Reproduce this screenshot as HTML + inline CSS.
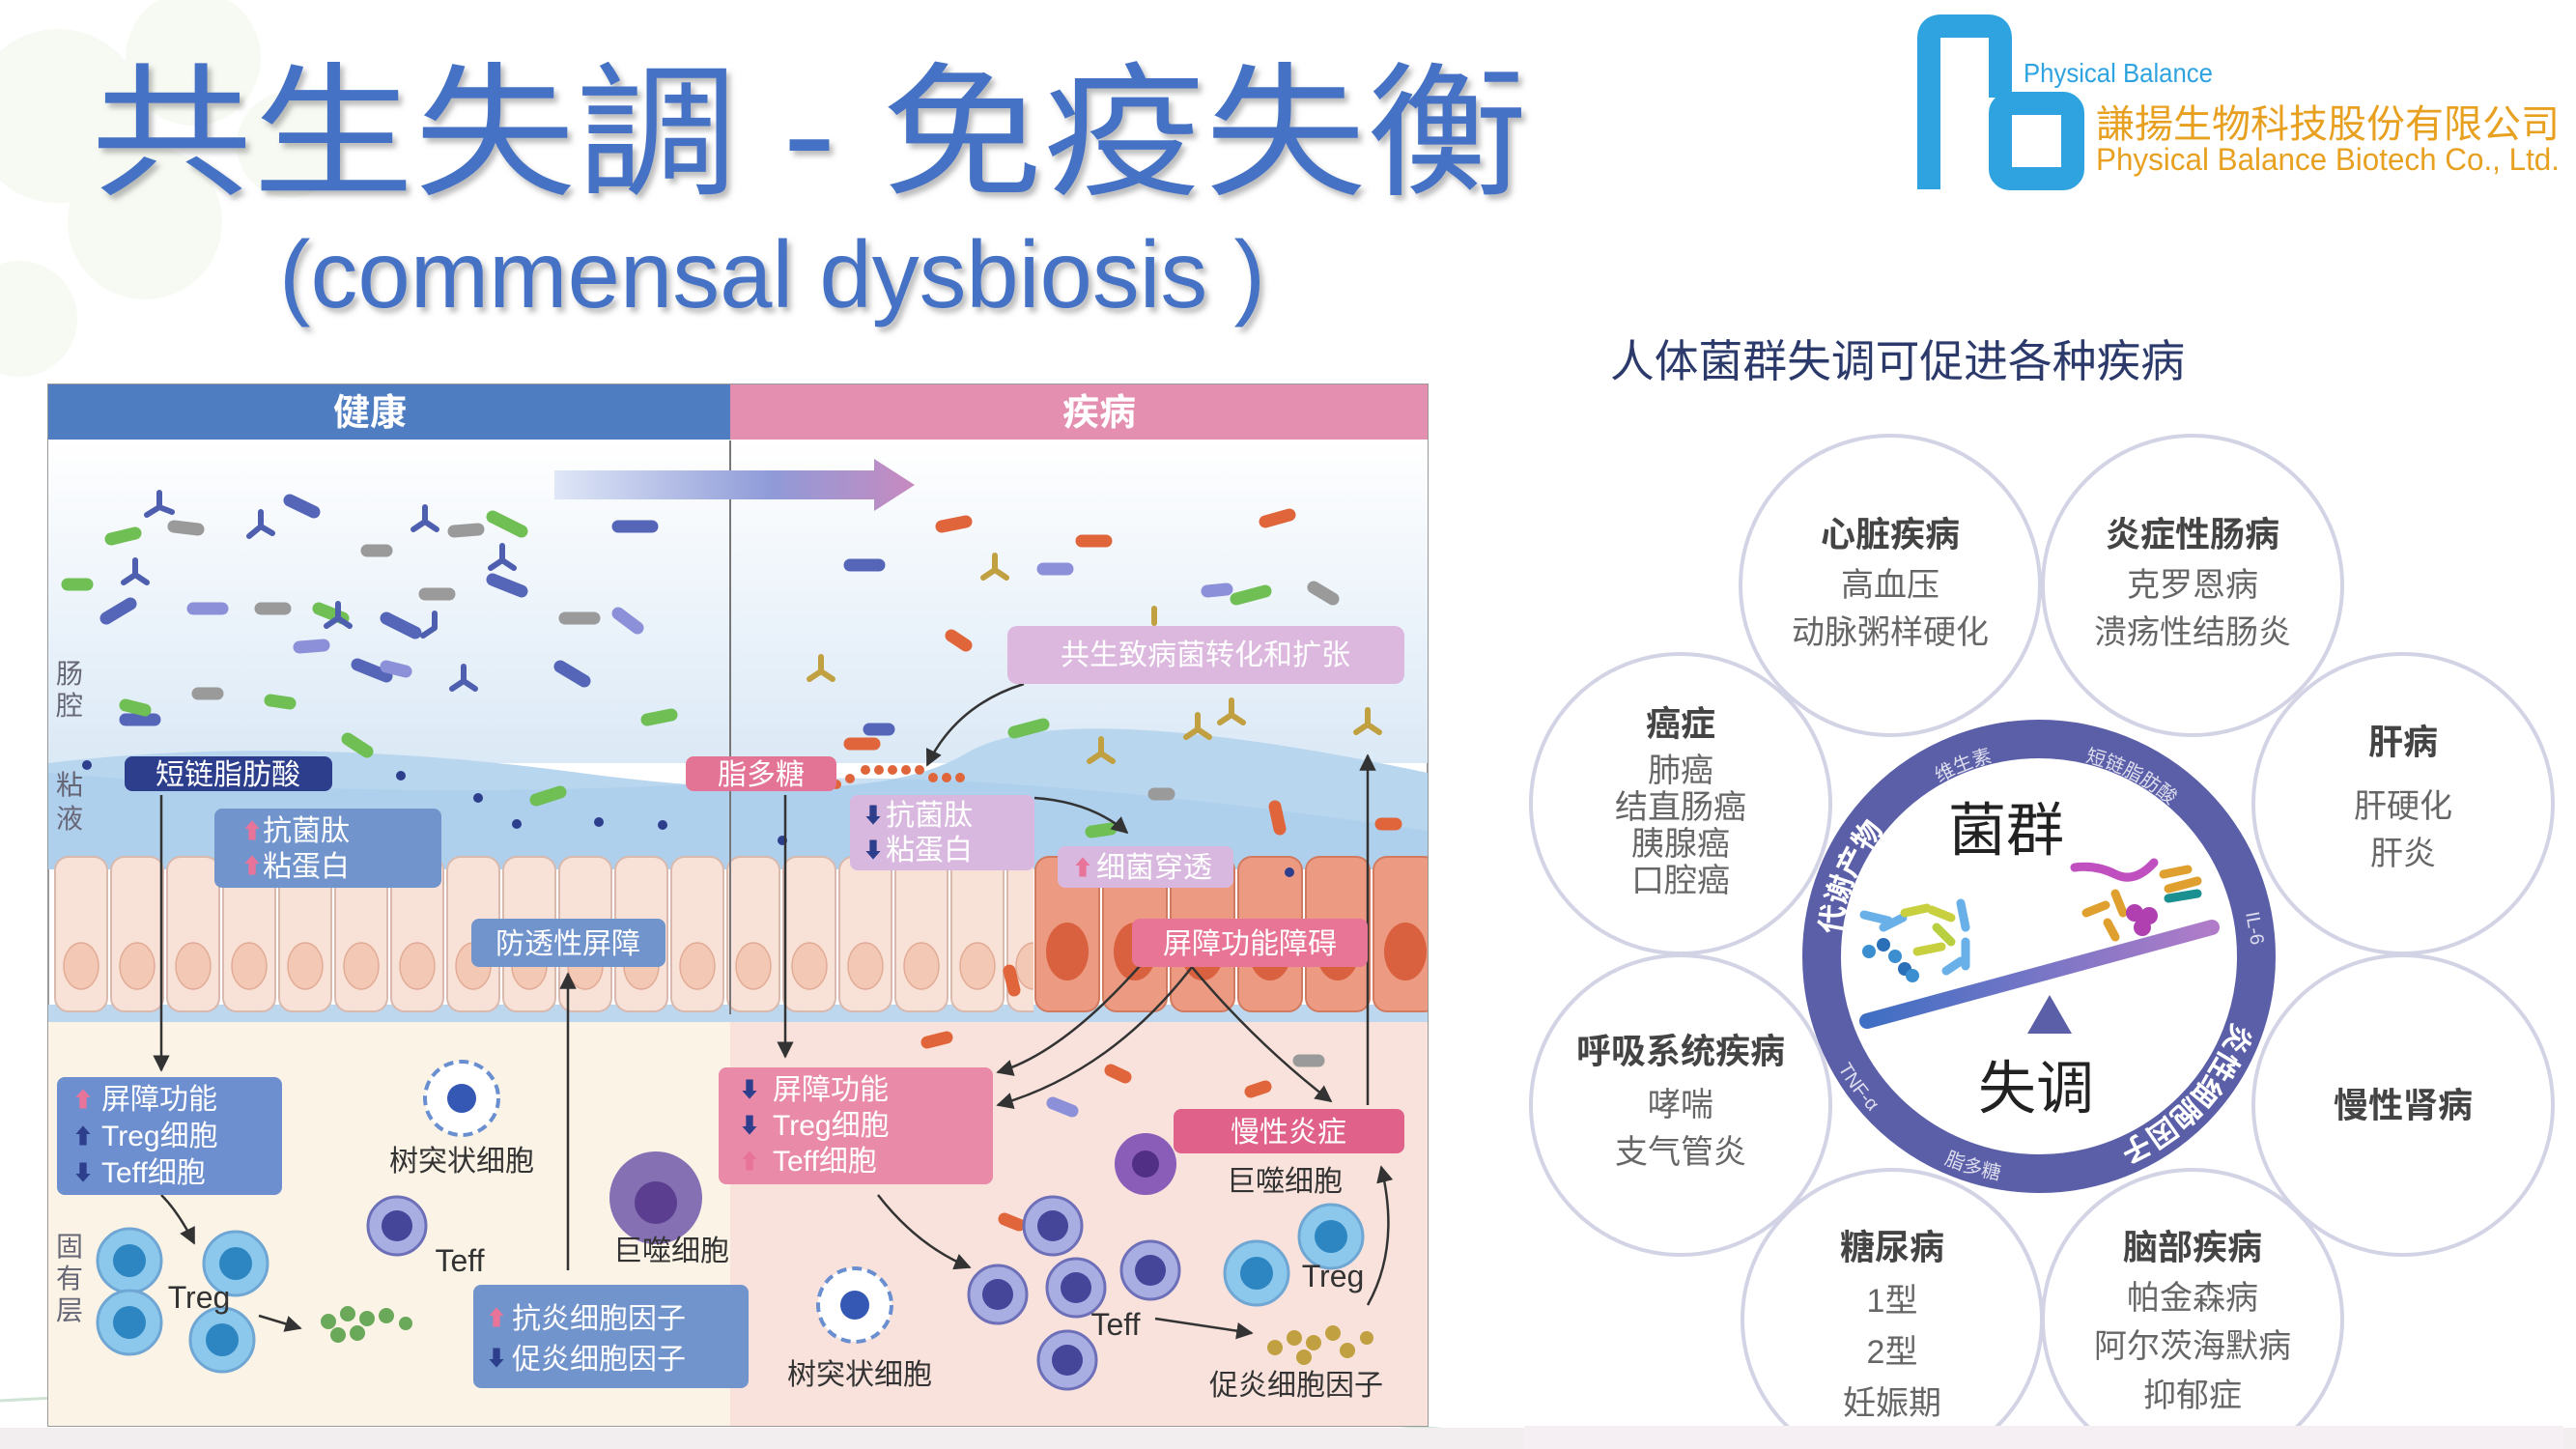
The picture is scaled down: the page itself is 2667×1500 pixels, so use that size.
<!DOCTYPE html>
<html><head><meta charset="utf-8"><style>
html,body{margin:0;padding:0;background:#fff}
svg{display:block}
text{font-family:"Liberation Sans","Noto Sans CJK SC",sans-serif}
</style></head><body>
<svg width="2667" height="1500" viewBox="0 0 2667 1500" xmlns="http://www.w3.org/2000/svg">
<defs>
<linearGradient id="lum" x1="0" y1="0" x2="0" y2="1"><stop offset="0" stop-color="#ffffff"/><stop offset="1" stop-color="#dbe9f6"/></linearGradient>
<linearGradient id="arr" x1="0" x2="1"><stop offset="0" stop-color="#dfe7f7"/><stop offset="0.6" stop-color="#8f9bd8"/><stop offset="1" stop-color="#c78ac0"/></linearGradient>
<linearGradient id="bar" x1="0" x2="1"><stop offset="0" stop-color="#3f6fc4"/><stop offset="1" stop-color="#b07cc8"/></linearGradient>
<pattern id="cells" x="55" y="885" width="58" height="165" patternUnits="userSpaceOnUse">
<rect x="2" y="2" width="54" height="160" rx="14" fill="#f8e2d8" stroke="#d9b8ae" stroke-width="2"/>
<ellipse cx="29" cy="115" rx="18" ry="24" fill="#f3c9b6" stroke="#e2ab96" stroke-width="1.5"/>
</pattern>
<pattern id="rcells" x="1070" y="885" width="70" height="165" patternUnits="userSpaceOnUse">
<rect x="2" y="2" width="66" height="160" rx="14" fill="#ec9b82" stroke="#d27a60" stroke-width="2"/>
<ellipse cx="35" cy="100" rx="22" ry="30" fill="#d9613f"/>
</pattern>
<marker id="ah" viewBox="0 0 10 10" refX="9" refY="5" markerWidth="7" markerHeight="7" orient="auto"><path d="M0,0 L10,5 L0,10 z" fill="#333"/></marker>
<filter id="sh"><feDropShadow dx="4" dy="5" stdDeviation="3" flood-color="#777" flood-opacity="0.5"/></filter>
<path id="arcTop" d="M1906,1020 A206,206 0 0 1 2316,960"/>
<path id="arcBot" d="M2314,1052 A212,212 0 0 1 2093,1201"/>
<path id="arcBL" d="M1880,1050 A235,235 0 0 0 2100,1224"/>
</defs>

<!-- background decor -->
<g opacity="0.12" fill="#b9d79c">
<circle cx="60" cy="120" r="90"/><circle cx="200" cy="60" r="70"/><circle cx="150" cy="230" r="80"/><circle cx="20" cy="330" r="60"/><circle cx="300" cy="150" r="55"/>
</g>
<path d="M0,1450 Q700,1410 1500,1480" stroke="#cfe3d4" stroke-width="3" fill="none"/>
<rect x="0" y="1478" width="2667" height="22" fill="#f2eef0"/>

<!-- title -->
<text x="94" y="190" font-size="150" fill="#4472c4" filter="url(#sh)" textLength="1488" lengthAdjust="spacingAndGlyphs">共生失調 - 免疫失衡</text>
<text x="289" y="318" font-size="98" fill="#4472c4" filter="url(#sh)" textLength="1021" lengthAdjust="spacingAndGlyphs">(commensal dysbiosis )</text>

<!-- logo -->
<g fill="none" stroke="#2ea3e0" stroke-width="24">
<path d="M1997,196 V40 Q1997,27 2010,27 H2058 Q2071,27 2071,40 V101"/>
<rect x="2071" y="107" width="75" height="78" rx="10"/>
</g>
<text x="2095" y="85" font-size="28" fill="#2ea3e0" textLength="196" lengthAdjust="spacingAndGlyphs">Physical Balance</text>
<text x="2170" y="142" font-size="40" fill="#e8a020" textLength="480" lengthAdjust="spacingAndGlyphs">謙揚生物科技股份有限公司</text>
<text x="2170" y="176" font-size="32" fill="#e8a020" textLength="480" lengthAdjust="spacingAndGlyphs">Physical Balance Biotech Co., Ltd.</text>

<!-- LEFT DIAGRAM -->
<rect x="50" y="398" width="1428" height="1078" fill="#fff" stroke="#999" stroke-width="2"/>
<rect x="50" y="455" width="1428" height="335" fill="url(#lum)"/>
<path d="M50,790 Q300,760 600,800 T1000,780 T1478,800 V900 H50 Z" fill="#b9d6ef"/>
<path d="M50,800 Q400,830 756,810 Q1000,790 1478,860 V900 H50Z" fill="#a9cbea" opacity="0.6"/>
<rect x="50" y="1050" width="706" height="426" fill="#fbf3e6"/>
<rect x="756" y="1050" width="722" height="426" fill="#f9e2dc"/>
<rect x="50" y="1040" width="1428" height="18" fill="#bdd8ee"/>
<rect x="55" y="885" width="1015" height="165" fill="url(#cells)"/>
<rect x="1070" y="885" width="408" height="165" fill="url(#rcells)"/>
<line x1="756" y1="456" x2="756" y2="1050" stroke="#777" stroke-width="2"/>
<rect x="50" y="398" width="706" height="57" fill="#4f7dc2"/>
<rect x="756" y="398" width="722" height="57" fill="#e58fb0"/>
<text x="383" y="440" font-size="38" font-weight="bold" fill="#fff" text-anchor="middle">健康</text>
<text x="1138" y="440" font-size="38" font-weight="bold" fill="#fff" text-anchor="middle">疾病</text>
<path d="M574,487 H905 V475 L947,502 L905,529 V517 H574 Z" fill="url(#arr)"/>

<!-- bacteria -->
<g stroke-linecap="round" stroke-width="13">
<g stroke="#5566b8"><line x1="300" y1="518" x2="325" y2="530"/><line x1="110" y1="640" x2="135" y2="625"/><line x1="400" y1="640" x2="430" y2="655"/><line x1="510" y1="600" x2="540" y2="612"/><line x1="640" y1="545" x2="675" y2="545"/><line x1="580" y1="690" x2="605" y2="705"/><line x1="130" y1="745" x2="160" y2="745"/><line x1="370" y1="688" x2="400" y2="700"/><line x1="880" y1="585" x2="910" y2="585"/><line x1="900" y1="755" x2="920" y2="755"/></g>
<g stroke="#9a9a9a"><line x1="180" y1="545" x2="205" y2="548"/><line x1="380" y1="570" x2="400" y2="570"/><line x1="470" y1="550" x2="495" y2="548"/><line x1="270" y1="630" x2="295" y2="630"/><line x1="585" y1="640" x2="615" y2="640"/><line x1="440" y1="615" x2="465" y2="615"/><line x1="205" y1="718" x2="225" y2="718"/><line x1="1195" y1="822" x2="1210" y2="822"/><line x1="1345" y1="1098" x2="1365" y2="1098"/><line x1="1360" y1="608" x2="1380" y2="620"/></g>
<g stroke="#6fbf55"><line x1="115" y1="558" x2="140" y2="552"/><line x1="70" y1="605" x2="90" y2="605"/><line x1="330" y1="630" x2="355" y2="640"/><line x1="510" y1="535" x2="540" y2="550"/><line x1="130" y1="730" x2="150" y2="735"/><line x1="280" y1="725" x2="300" y2="728"/><line x1="670" y1="745" x2="695" y2="740"/><line x1="360" y1="765" x2="380" y2="778"/><line x1="555" y1="828" x2="580" y2="820"/><line x1="1280" y1="620" x2="1310" y2="612"/><line x1="1050" y1="758" x2="1080" y2="750"/><line x1="1130" y1="861" x2="1150" y2="858"/></g>
<g stroke="#8c90d8"><line x1="200" y1="630" x2="230" y2="630"/><line x1="310" y1="670" x2="335" y2="668"/><line x1="400" y1="690" x2="420" y2="695"/><line x1="640" y1="635" x2="660" y2="650"/><line x1="1080" y1="589" x2="1105" y2="589"/><line x1="1250" y1="612" x2="1270" y2="610"/><line x1="1090" y1="1142" x2="1110" y2="1150"/></g>
<g stroke="#e0653a"><line x1="975" y1="545" x2="1000" y2="540"/><line x1="1120" y1="560" x2="1145" y2="560"/><line x1="1310" y1="540" x2="1335" y2="533"/><line x1="985" y1="658" x2="1000" y2="668"/><line x1="880" y1="770" x2="905" y2="770"/><line x1="1320" y1="835" x2="1325" y2="858"/><line x1="1430" y1="853" x2="1445" y2="853"/><line x1="1045" y1="1005" x2="1050" y2="1025"/><line x1="960" y1="1079" x2="980" y2="1074"/><line x1="1150" y1="1108" x2="1165" y2="1115"/><line x1="1040" y1="1262" x2="1055" y2="1268"/><line x1="1295" y1="1130" x2="1310" y2="1125"/></g>
</g>
<g stroke="#4e5fb0" stroke-width="6" fill="none" stroke-linecap="round">
<path d="M165,525 V510 M165,525 L152,533 M165,525 L178,530"/><path d="M270,545 V530 M270,545 L258,555 M270,545 L282,552"/><path d="M440,540 V525 M440,540 L428,548 M440,540 L452,548"/><path d="M520,580 V565 M520,580 L508,588 M520,580 L532,588"/><path d="M140,595 V580 M140,595 L128,603 M140,595 L152,603"/><path d="M350,640 V625 M350,640 L338,648 M350,640 L362,648"/><path d="M450,650 V635 M450,650 L438,658"/><path d="M480,705 V690 M480,705 L468,713 M480,705 L492,713"/>
</g>
<g stroke="#c0a040" stroke-width="6" fill="none" stroke-linecap="round">
<path d="M1030,590 V575 M1030,590 L1018,598 M1030,590 L1042,598"/><path d="M1195,645 V630"/><path d="M850,695 V680 M850,695 L838,703 M850,695 L862,703"/><path d="M1240,755 V740 M1240,755 L1228,763 M1240,755 L1252,763"/><path d="M1140,780 V765 M1140,780 L1128,788 M1140,780 L1152,788"/><path d="M1416,750 V735 M1416,750 L1404,758 M1416,750 L1428,758"/><path d="M1275,740 V725 M1275,740 L1263,748 M1275,740 L1287,748"/>
</g>
<g fill="#2c3e8c"><circle cx="90" cy="792" r="5"/><circle cx="415" cy="803" r="5"/><circle cx="495" cy="826" r="5"/><circle cx="535" cy="853" r="5"/><circle cx="620" cy="851" r="5"/><circle cx="686" cy="854" r="5"/><circle cx="810" cy="870" r="5"/><circle cx="1335" cy="903" r="5"/></g>
<g fill="#e0653a"><circle cx="896" cy="797" r="5"/><circle cx="910" cy="797" r="5"/><circle cx="924" cy="797" r="5"/><circle cx="938" cy="797" r="5"/><circle cx="952" cy="797" r="5"/><circle cx="966" cy="805" r="5"/><circle cx="980" cy="805" r="5"/><circle cx="994" cy="805" r="5"/><circle cx="880" cy="806" r="5"/><circle cx="866" cy="812" r="5"/></g>

<!-- cells lamina -->
<g stroke="#6fa6d3" stroke-width="3" fill="#8cc8ec"><circle cx="134" cy="1305" r="33"/><circle cx="244" cy="1308" r="33"/><circle cx="134" cy="1369" r="33"/><circle cx="230" cy="1387" r="33"/><circle cx="1378" cy="1280" r="33"/><circle cx="1301" cy="1318" r="33"/></g>
<g fill="#2d86c2"><circle cx="134" cy="1305" r="17"/><circle cx="244" cy="1308" r="17"/><circle cx="134" cy="1369" r="17"/><circle cx="230" cy="1387" r="17"/><circle cx="1378" cy="1280" r="17"/><circle cx="1301" cy="1318" r="17"/></g>
<g stroke="#6d6fb8" stroke-width="3" fill="#a9aee2"><circle cx="411" cy="1269" r="30"/><circle cx="1090" cy="1269" r="30"/><circle cx="1033" cy="1340" r="30"/><circle cx="1114" cy="1333" r="30"/><circle cx="1191" cy="1315" r="30"/><circle cx="1105" cy="1408" r="30"/></g>
<g fill="#45459a"><circle cx="411" cy="1269" r="16"/><circle cx="1090" cy="1269" r="16"/><circle cx="1033" cy="1340" r="16"/><circle cx="1114" cy="1333" r="16"/><circle cx="1191" cy="1315" r="16"/><circle cx="1105" cy="1408" r="16"/></g>
<circle cx="679" cy="1240" r="48" fill="#8670b4"/><circle cx="679" cy="1245" r="22" fill="#5b3e8f"/>
<circle cx="1186" cy="1205" r="32" fill="#8a5db8"/><circle cx="1186" cy="1205" r="14" fill="#512f84"/>
<g fill="#fff" stroke="#6a8fd0" stroke-width="4"><circle cx="478" cy="1137" r="38" stroke-dasharray="10 6"/><circle cx="885" cy="1351" r="38" stroke-dasharray="10 6"/></g>
<circle cx="478" cy="1137" r="15" fill="#3558b5"/><circle cx="885" cy="1351" r="15" fill="#3558b5"/>
<g fill="#6aa85a"><circle cx="340" cy="1368" r="8"/><circle cx="360" cy="1360" r="8"/><circle cx="380" cy="1365" r="8"/><circle cx="400" cy="1362" r="8"/><circle cx="370" cy="1380" r="8"/><circle cx="350" cy="1382" r="8"/><circle cx="420" cy="1370" r="7"/></g>
<g fill="#c0a040"><circle cx="1320" cy="1395" r="8"/><circle cx="1340" cy="1385" r="8"/><circle cx="1360" cy="1390" r="8"/><circle cx="1380" cy="1380" r="8"/><circle cx="1350" cy="1405" r="8"/><circle cx="1395" cy="1398" r="8"/><circle cx="1415" cy="1385" r="7"/></g>

<!-- arrows -->
<g stroke="#333" stroke-width="2.5" fill="none" marker-end="url(#ah)">
<line x1="167" y1="823" x2="167" y2="1108"/>
<line x1="588" y1="1315" x2="588" y2="1008"/>
<path d="M167,1237 Q185,1255 201,1287"/>
<line x1="268" y1="1362" x2="311" y2="1375"/>
<line x1="813" y1="823" x2="813" y2="1094"/>
<path d="M1060,708 Q990,730 960,792"/>
<line x1="1416" y1="1144" x2="1416" y2="782"/>
<path d="M1234,1001 Q1150,1110 1033,1144"/>
<path d="M1234,1001 Q1300,1080 1378,1140"/>
<path d="M1180,1000 Q1100,1090 1033,1110"/>
<path d="M909,1237 Q950,1290 1004,1312"/>
<line x1="1196" y1="1365" x2="1296" y2="1380"/>
<path d="M1416,1351 Q1450,1290 1430,1208"/>
<path d="M1071,826 Q1130,830 1167,862"/>
</g>

<!-- boxes -->
<g font-size="30">
<rect x="129" y="783" width="215" height="36" rx="8" fill="#2c3e8c"/><text x="236" y="812" fill="#fff" text-anchor="middle">短链脂肪酸</text>
<rect x="222" y="837" width="235" height="82" rx="8" fill="#7294cc"/><text x="272" y="870" fill="#fff">抗菌肽</text><text x="272" y="907" fill="#fff">粘蛋白</text><text x="250" y="868" fill="#e8749a" font-size="22">⬆</text><text x="250" y="904" fill="#e8749a" font-size="22">⬆</text>
<rect x="488" y="951" width="201" height="50" rx="8" fill="#7294cc"/><text x="588" y="987" fill="#fff" text-anchor="middle">防透性屏障</text>
<rect x="59" y="1115" width="233" height="122" rx="8" fill="#6e8fcf"/><text x="105" y="1148" fill="#fff">屏障功能</text><text x="105" y="1186" fill="#fff">Treg细胞</text><text x="105" y="1224" fill="#fff">Teff细胞</text><text x="75" y="1146" fill="#e8749a" font-size="22">⬆</text><text x="75" y="1184" fill="#2c3e8c" font-size="22">⬆</text><text x="75" y="1222" fill="#2c3e8c" font-size="22">⬇</text>
<rect x="490" y="1330" width="285" height="107" rx="8" fill="#7294cc"/><text x="530" y="1375" fill="#fff">抗炎细胞因子</text><text x="530" y="1417" fill="#fff">促炎细胞因子</text><text x="503" y="1372" fill="#e8749a" font-size="22">⬆</text><text x="503" y="1414" fill="#2c3e8c" font-size="22">⬇</text>
<rect x="710" y="783" width="156" height="36" rx="8" fill="#e37496"/><text x="788" y="812" fill="#fff" text-anchor="middle">脂多糖</text>
<rect x="1043" y="648" width="411" height="60" rx="10" fill="#dcb8df"/><text x="1248" y="688" fill="#fff" text-anchor="middle">共生致病菌转化和扩张</text>
<rect x="880" y="823" width="191" height="78" rx="8" fill="#d9b8df"/><text x="917" y="854" fill="#fff">抗菌肽</text><text x="917" y="890" fill="#fff">粘蛋白</text><text x="893" y="852" fill="#2c3e8c" font-size="22">⬇</text><text x="893" y="888" fill="#2c3e8c" font-size="22">⬇</text>
<rect x="1095" y="876" width="182" height="43" rx="8" fill="#d9b8df"/><text x="1135" y="908" fill="#fff">细菌穿透</text><text x="1110" y="906" fill="#e8749a" font-size="22">⬆</text>
<rect x="1172" y="951" width="244" height="50" rx="8" fill="#e87595"/><text x="1294" y="987" fill="#fff" text-anchor="middle">屏障功能障碍</text>
<rect x="744" y="1105" width="284" height="121" rx="8" fill="#e98ba8"/><text x="800" y="1138" fill="#fff">屏障功能</text><text x="800" y="1175" fill="#fff">Treg细胞</text><text x="800" y="1212" fill="#fff">Teff细胞</text><text x="765" y="1136" fill="#2c3e8c" font-size="22">⬇</text><text x="765" y="1173" fill="#2c3e8c" font-size="22">⬇</text><text x="765" y="1210" fill="#e8749a" font-size="22">⬆</text>
<rect x="1215" y="1148" width="239" height="46" rx="8" fill="#e0628a"/><text x="1334" y="1182" fill="#fff" text-anchor="middle">慢性炎症</text>
</g>
<g font-size="30" fill="#333" text-anchor="middle">
<text x="478" y="1212">树突状细胞</text><text x="476" y="1316" font-size="32">Teff</text><text x="695" y="1305">巨噬细胞</text><text x="206" y="1354" font-size="32">Treg</text>
<text x="890" y="1433">树突状细胞</text><text x="1155" y="1382" font-size="32">Teff</text><text x="1330" y="1233">巨噬细胞</text><text x="1380" y="1332" font-size="32">Treg</text><text x="1342" y="1444">促炎细胞因子</text>
</g>
<g font-size="28" fill="#667">
<text x="72" y="707" text-anchor="middle">肠</text><text x="72" y="740" text-anchor="middle">腔</text>
<text x="72" y="822" text-anchor="middle">粘</text><text x="72" y="857" text-anchor="middle">液</text>
<text x="72" y="1300" text-anchor="middle">固</text><text x="72" y="1333" text-anchor="middle">有</text><text x="72" y="1366" text-anchor="middle">层</text>
</g>

<!-- RIGHT PANEL -->
<rect x="1578" y="330" width="1076" height="1146" fill="#fff"/>
<text x="1667" y="390" font-size="46" fill="#2b3a6b" textLength="595" lengthAdjust="spacingAndGlyphs">人体菌群失调可促进各种疾病</text>
<g fill="#fff" stroke="#d3d3e6" stroke-width="4">
<circle cx="1957" cy="606" r="155"/><circle cx="2270" cy="606" r="155"/><circle cx="2488" cy="832" r="155"/><circle cx="2488" cy="1144" r="155"/>
<circle cx="2270" cy="1366" r="155"/><circle cx="1959" cy="1366" r="155"/><circle cx="1740" cy="1144" r="155"/><circle cx="1740" cy="832" r="155"/>
</g>
<rect x="1578" y="1476" width="1076" height="24" fill="#f5eef2"/>
<circle cx="2111" cy="990" r="225" fill="#fff" stroke="#5b5fa8" stroke-width="40"/>
<text font-size="30" font-weight="bold" fill="#fff"><textPath href="#arcTop" startOffset="8%">代谢产物</textPath></text>
<text font-size="20" fill="#dde"><textPath href="#arcTop" startOffset="38%">维生素</textPath></text>
<text font-size="20" fill="#dde"><textPath href="#arcTop" startOffset="62%">短链脂肪酸</textPath></text>
<text font-size="30" font-weight="bold" fill="#fff"><textPath href="#arcBot" startOffset="2%">炎性细胞因子</textPath></text>
<text font-size="20" fill="#dde"><textPath href="#arcBL" startOffset="20%">TNF-α</textPath></text>
<text font-size="20" fill="#dde"><textPath href="#arcBL" startOffset="70%">脂多糖</textPath></text>
<text x="2325" y="945" font-size="20" fill="#dde" transform="rotate(80 2325 945)">IL-6</text>
<text x="2077" y="860" font-size="60" fill="#222" text-anchor="middle" dominant-baseline="central">菌群</text>
<text x="2108" y="1127" font-size="60" fill="#222" text-anchor="middle" dominant-baseline="central">失调</text>
<path d="M2122,1030 L2145,1070 H2099 Z" fill="#5b5fa8"/>
<line x1="1933" y1="1057" x2="2290" y2="960" stroke="url(#bar)" stroke-width="16" stroke-linecap="round"/>
<g stroke-width="9" stroke-linecap="round">
<line x1="1930" y1="947" x2="1955" y2="953" stroke="#6ab0e8"/><line x1="1950" y1="960" x2="1970" y2="950" stroke="#6ab0e8"/><line x1="1972" y1="945" x2="1995" y2="940" stroke="#c8d040"/><line x1="2000" y1="942" x2="2020" y2="950" stroke="#c8d040"/><line x1="2005" y1="960" x2="2020" y2="975" stroke="#b8d040"/><line x1="1985" y1="985" x2="2010" y2="980" stroke="#c8d040"/><line x1="2030" y1="935" x2="2035" y2="960" stroke="#6ab0e8"/><line x1="2035" y1="975" x2="2035" y2="1000" stroke="#6ab0e8"/><line x1="2015" y1="1005" x2="2030" y2="995" stroke="#6ab0e8"/>
<circle cx="1935" cy="985" r="7" fill="#3b8fd0" stroke="none"/><circle cx="1950" cy="978" r="7" fill="#2a6fb8" stroke="none"/><circle cx="1962" cy="990" r="7" fill="#3b8fd0" stroke="none"/><circle cx="1972" cy="1003" r="7" fill="#2a6fb8" stroke="none"/><circle cx="1980" cy="1010" r="7" fill="#3b8fd0" stroke="none"/>
<path d="M2148,898 Q2170,895 2190,905 T2230,893" stroke="#c050c0" fill="none"/><line x1="2190" y1="925" x2="2198" y2="945" stroke="#e0a030"/><line x1="2160" y1="945" x2="2180" y2="937" stroke="#e0a030"/><line x1="2182" y1="955" x2="2190" y2="970" stroke="#e0a030"/><line x1="2240" y1="905" x2="2265" y2="900" stroke="#e0a030"/><line x1="2245" y1="930" x2="2275" y2="925" stroke="#1a9090"/><line x1="2245" y1="920" x2="2275" y2="912" stroke="#e0a030"/>
<circle cx="2210" cy="945" r="9" fill="#b040b0" stroke="none"/><circle cx="2225" cy="948" r="9" fill="#b040b0" stroke="none"/><circle cx="2218" cy="960" r="9" fill="#b040b0" stroke="none"/>
</g>
<g font-weight="bold" font-size="36" fill="#444" text-anchor="middle" dominant-baseline="central">
<text x="1957" y="553">心脏疾病</text><text x="2270" y="553">炎症性肠病</text><text x="2488" y="768">肝病</text><text x="2488" y="1144">慢性肾病</text>
<text x="2270" y="1291">脑部疾病</text><text x="1959" y="1291">糖尿病</text><text x="1740" y="1088">呼吸系统疾病</text><text x="1740" y="749">癌症</text>
</g>
<g font-size="34" fill="#666" text-anchor="middle" dominant-baseline="central">
<text x="1957" y="606">高血压</text><text x="1957" y="655">动脉粥样硬化</text>
<text x="2270" y="606">克罗恩病</text><text x="2270" y="655">溃疡性结肠炎</text>
<text x="2488" y="835">肝硬化</text><text x="2488" y="884">肝炎</text>
<text x="2270" y="1344">帕金森病</text><text x="2270" y="1394">阿尔茨海默病</text><text x="2270" y="1445">抑郁症</text>
<text x="1959" y="1347">1型</text><text x="1959" y="1400">2型</text><text x="1959" y="1453">妊娠期</text>
<text x="1740" y="1144">哮喘</text><text x="1740" y="1193">支气管炎</text>
<text x="1740" y="798">肺癌</text><text x="1740" y="836">结直肠癌</text><text x="1740" y="874">胰腺癌</text><text x="1740" y="912">口腔癌</text>
</g>
</svg>
</body></html>
